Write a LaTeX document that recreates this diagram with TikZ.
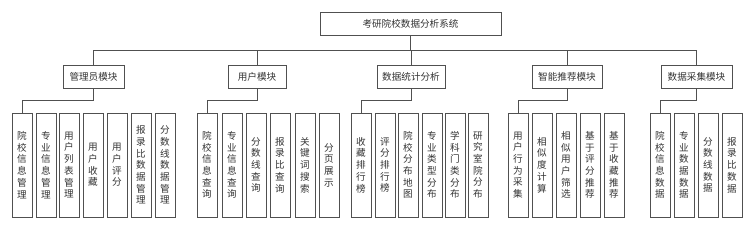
\documentclass[tikz,border=0pt]{standalone}
\usepackage{fontspec}
\newfontfamily\cjk{Noto Sans CJK SC}
\definecolor{ln}{HTML}{505050}
\definecolor{tx}{HTML}{333333}
\begin{document}
\begin{tikzpicture}[x=1pt,y=-1pt,
  box/.style={draw=ln,line width=0.9pt,fill=white,text=tx,inner sep=0pt,
    font=\cjk\fontsize{9.6}{11.7}\selectfont},
  topbox/.style={box,minimum width=181pt,minimum height=23pt},
  modbox/.style={box,minimum height=23pt},
  leaf/.style={box,minimum width=20pt,minimum height=104pt,align=center},
  conn/.style={draw=ln,line width=0.9pt}]
\useasboundingbox[fill=white] (0,0) rectangle (755,230);
\node[topbox] (top) at (410.5,23.5) {考研院校数据分析系统};
\node[modbox,minimum width=61pt] (m1) at (93.5,76.5) {管理员模块};
\node[modbox,minimum width=58pt] (m2) at (257,76.5) {用户模块};
\node[modbox,minimum width=68pt] (m3) at (411,76.5) {数据统计分析};
\node[modbox,minimum width=70pt] (m4) at (567,76.5) {智能推荐模块};
\node[modbox,minimum width=71pt] (m5) at (696.5,76.5) {数据采集模块};
\foreach \m in {m1,m2,m3,m4,m5} \draw[conn] (top.south) -- ++(0,15) -| (\m.north);
% group 1
\node[leaf] (a1) at (22,165) {院\\校\\信\\息\\管\\理};
\node[leaf] (a2) at (46,165) {专\\业\\信\\息\\管\\理};
\node[leaf] (a3) at (69,165) {用\\户\\列\\表\\管\\理};
\node[leaf] (a4) at (93,165) {用\\户\\收\\藏};
\node[leaf] (a5) at (117,165) {用\\户\\评\\分};
\node[leaf] (a6) at (141,165) {报\\录\\比\\数\\据\\管\\理};
\node[leaf] (a7) at (165,165) {分\\数\\线\\数\\据\\管\\理};
\foreach \l in {a1,...,a7} \draw[conn] (m1.south) -- ++(0,12) -| (\l.north);
% group 2
\node[leaf] (b1) at (207,165) {院\\校\\信\\息\\查\\询};
\node[leaf] (b2) at (232,165) {专\\业\\信\\息\\查\\询};
\node[leaf] (b3) at (256,165) {分\\数\\线\\查\\询};
\node[leaf] (b4) at (280,165) {报\\录\\比\\查\\询};
\node[leaf] (b5) at (305,165) {关\\键\\词\\搜\\索};
\node[leaf] (b6) at (329,165) {分\\页\\展\\示};
\foreach \l in {b1,...,b6} \draw[conn] (m2.south) -- ++(0,12) -| (\l.north);
% group 3
\node[leaf] (c1) at (361,165) {收\\藏\\排\\行\\榜};
\node[leaf] (c2) at (385,165) {评\\分\\排\\行\\榜};
\node[leaf] (c3) at (408,165) {院\\校\\分\\布\\地\\图};
\node[leaf] (c4) at (432,165) {专\\业\\类\\型\\分\\布};
\node[leaf] (c5) at (455,165) {学\\科\\门\\类\\分\\布};
\node[leaf] (c6) at (478,165) {研\\究\\室\\院\\分\\布};
\foreach \l in {c1,...,c6} \draw[conn] (m3.south) -- ++(0,12) -| (\l.north);
% group 4
\node[leaf] (d1) at (518,165) {用\\户\\行\\为\\采\\集};
\node[leaf] (d2) at (542,165) {相\\似\\度\\计\\算};
\node[leaf] (d3) at (566,165) {相\\似\\用\\户\\筛\\选};
\node[leaf] (d4) at (590,165) {基\\于\\评\\分\\推\\荐};
\node[leaf] (d5) at (614,165) {基\\于\\收\\藏\\推\\荐};
\foreach \l in {d1,...,d5} \draw[conn] (m4.south) -- ++(0,12) -| (\l.north);
% group 5
\node[leaf] (e1) at (660,165) {院\\校\\信\\息\\数\\据};
\node[leaf] (e2) at (684,165) {专\\业\\数\\据\\数\\据};
\node[leaf] (e3) at (708,165) {分\\数\\线\\数\\据};
\node[leaf] (e4) at (732,165) {报\\录\\比\\数\\据};
\foreach \l in {e1,...,e4} \draw[conn] (m5.south) -- ++(0,12) -| (\l.north);
\end{tikzpicture}
\end{document}
